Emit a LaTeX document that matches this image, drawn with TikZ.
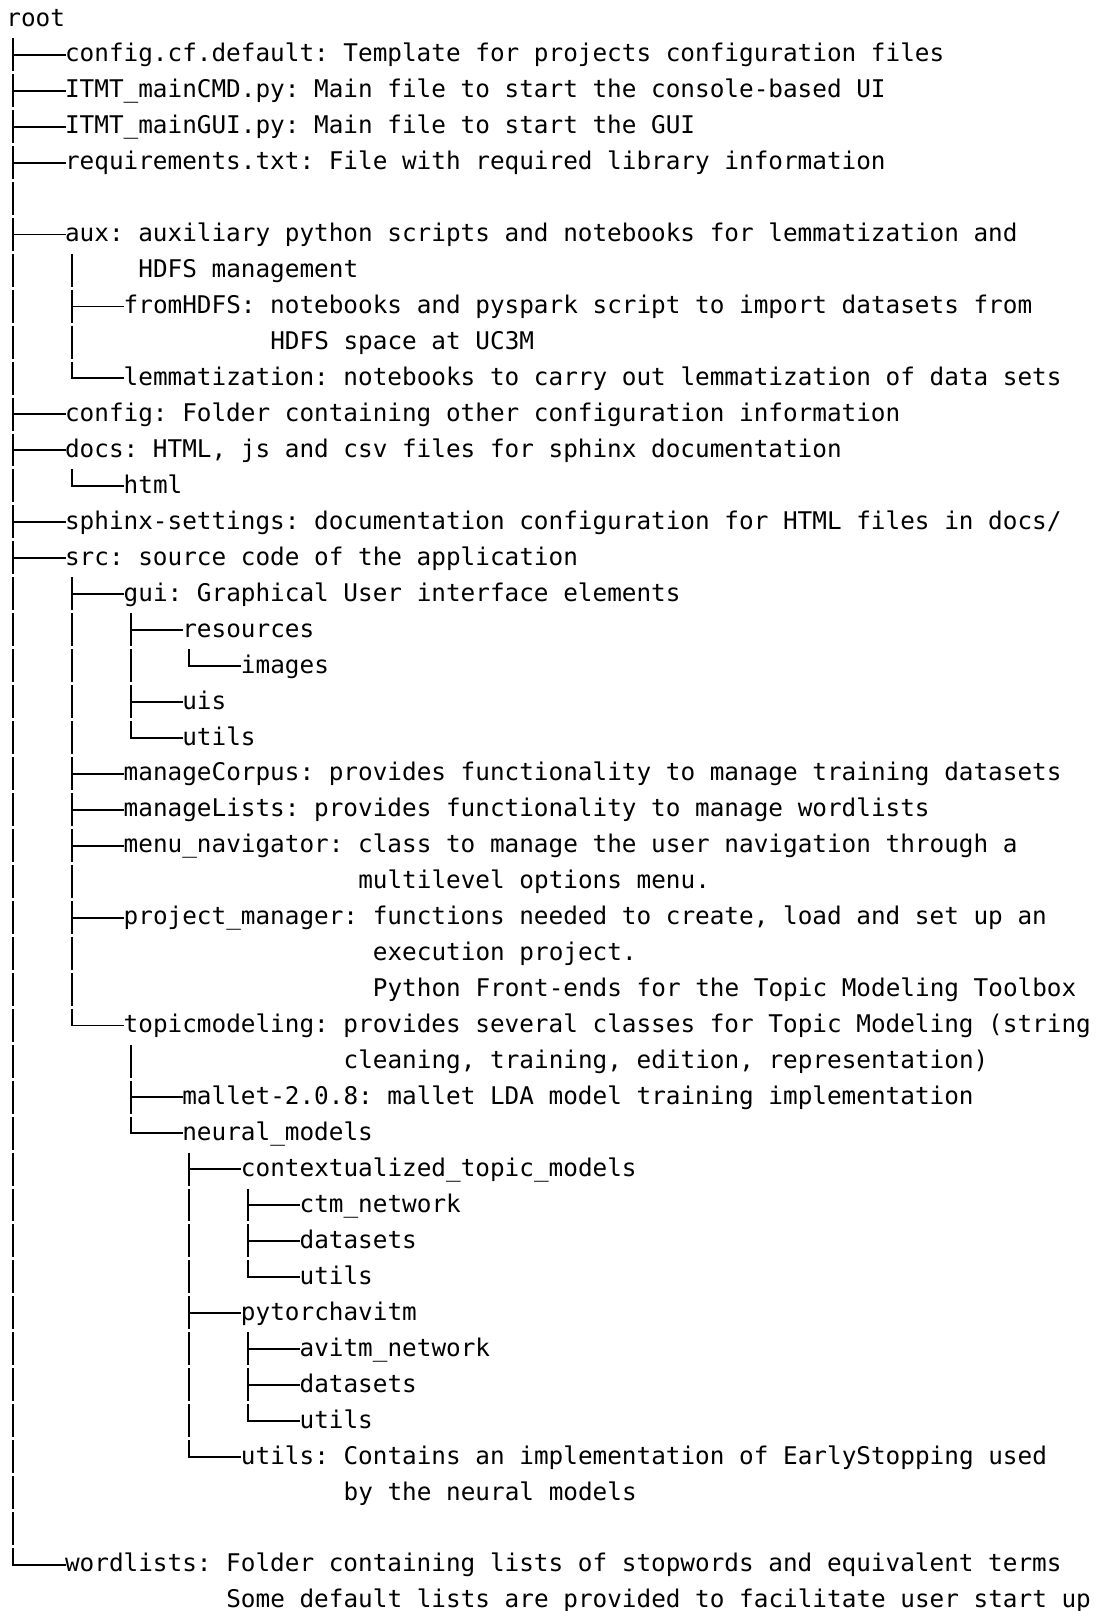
\documentclass[tikz,border=0pt]{standalone}
\usepackage{fontspec}
\setmonofont{DejaVu Sans Mono}
\newcommand{\halfcol}{3.66pt}
\begin{document}
\begin{tikzpicture}[
    x=7.33pt, y=-17.975pt,
    entry/.style={anchor=west, yshift=-9.4pt, inner sep=0pt, text height=12.25pt, text depth=5.05pt, font=\ttfamily\fontsize{12.17pt}{17.975pt}\selectfont},
    bar/.style={line width=0.9pt, dash pattern=on 16.475pt off 1.5pt, dash phase=17.2pt},
    branch/.style={line width=0.9pt, line cap=rect}
  ]
    \useasboundingbox[fill=white] (-0.41,0) rectangle (74.57,44.81);

    % Top level
    \node[entry] (root) at (0,0) {root};
    \node[entry] (cfgdef) at (4,1) {config.cf.default: Template for projects configuration files};
    \node[entry] (maincmd) at (4,2) {ITMT\_mainCMD.py: Main file to start the console-based UI};
    \node[entry] (maingui) at (4,3) {ITMT\_mainGUI.py: Main file to start the GUI};
    \node[entry] (reqs) at (4,4) {requirements.txt: File with required library information};

    % aux
    \node[entry] (aux) at (4,6) {aux: auxiliary python scripts and notebooks for lemmatization and};
    \node[entry] (aux-more) at (9,7) {HDFS management};
    \node[entry] (fromhdfs) at (8,8) {fromHDFS: notebooks and pyspark script to import datasets from};
    \node[entry] (fromhdfs-more) at (18,9) {HDFS space at UC3M};
    \node[entry] (lemma) at (8,10) {lemmatization: notebooks to carry out lemmatization of data sets};

    % config, docs, sphinx
    \node[entry] (config) at (4,11) {config: Folder containing other configuration information};
    \node[entry] (docs) at (4,12) {docs: HTML, js and csv files for sphinx documentation};
    \node[entry] (html) at (8,13) {html};
    \node[entry] (sphinx) at (4,14) {sphinx-settings: documentation configuration for HTML files in docs/};

    % src
    \node[entry] (src) at (4,15) {src: source code of the application};
    \node[entry] (gui) at (8,16) {gui: Graphical User interface elements};
    \node[entry] (resources) at (12,17) {resources};
    \node[entry] (images) at (16,18) {images};
    \node[entry] (uis) at (12,19) {uis};
    \node[entry] (guiutils) at (12,20) {utils};
    \node[entry] (corpus) at (8,21) {manageCorpus: provides functionality to manage training datasets};
    \node[entry] (lists) at (8,22) {manageLists: provides functionality to manage wordlists};
    \node[entry] (menu) at (8,23) {menu\_navigator: class to manage the user navigation through a};
    \node[entry] (menu-more) at (24,24) {multilevel options menu.};
    \node[entry] (project) at (8,25) {project\_manager: functions needed to create, load and set up an};
    \node[entry] (project-more) at (25,26) {execution project.};
    \node[entry] (project-note) at (25,27) {Python Front-ends for the Topic Modeling Toolbox};
    \node[entry] (topic) at (8,28) {topicmodeling: provides several classes for Topic Modeling (string};
    \node[entry] (topic-more) at (23,29) {cleaning, training, edition, representation)};
    \node[entry] (mallet) at (12,30) {mallet-2.0.8: mallet LDA model training implementation};
    \node[entry] (neural) at (12,31) {neural\_models};
    \node[entry] (ctm) at (16,32) {contextualized\_topic\_models};
    \node[entry] (ctmnet) at (20,33) {ctm\_network};
    \node[entry] (ctmdata) at (20,34) {datasets};
    \node[entry] (ctmutils) at (20,35) {utils};
    \node[entry] (avitm) at (16,36) {pytorchavitm};
    \node[entry] (avitmnet) at (20,37) {avitm\_network};
    \node[entry] (avitmdata) at (20,38) {datasets};
    \node[entry] (avitmutils) at (20,39) {utils};
    \node[entry] (nnutils) at (16,40) {utils: Contains an implementation of EarlyStopping used};
    \node[entry] (nnutils-more) at (23,41) {by the neural models};

    % wordlists
    \node[entry] (wordlists) at (4,43) {wordlists: Folder containing lists of stopwords and equivalent terms};
    \node[entry] (wordlists-more) at (15,44) {Some default lists are provided to facilitate user start up};

    % Vertical bars
    \foreach \p/\last in {root/wordlists, aux/lemma, docs/html, src/topic, gui/guiutils,
        resources/images, topic/neural, neural/nnutils, ctm/ctmutils, avitm/avitmutils} {
      \coordinate (\p-bar) at ([xshift=\halfcol]\p.south west);
      \draw[bar] (\p-bar) -- (\p-bar |- \last.west);
    }

    % Branches
    \foreach \c/\p in {cfgdef/root, maincmd/root, maingui/root, reqs/root, aux/root,
        config/root, docs/root, sphinx/root, src/root, wordlists/root,
        fromhdfs/aux, lemma/aux, html/docs,
        gui/src, corpus/src, lists/src, menu/src, project/src, topic/src,
        resources/gui, uis/gui, guiutils/gui, images/resources,
        mallet/topic, neural/topic, ctm/neural, avitm/neural, nnutils/neural,
        ctmnet/ctm, ctmdata/ctm, ctmutils/ctm, avitmnet/avitm, avitmdata/avitm, avitmutils/avitm} {
      \draw[branch] (\c.west) -- (\c.west -| \p-bar);
    }
\end{tikzpicture}
\end{document}
